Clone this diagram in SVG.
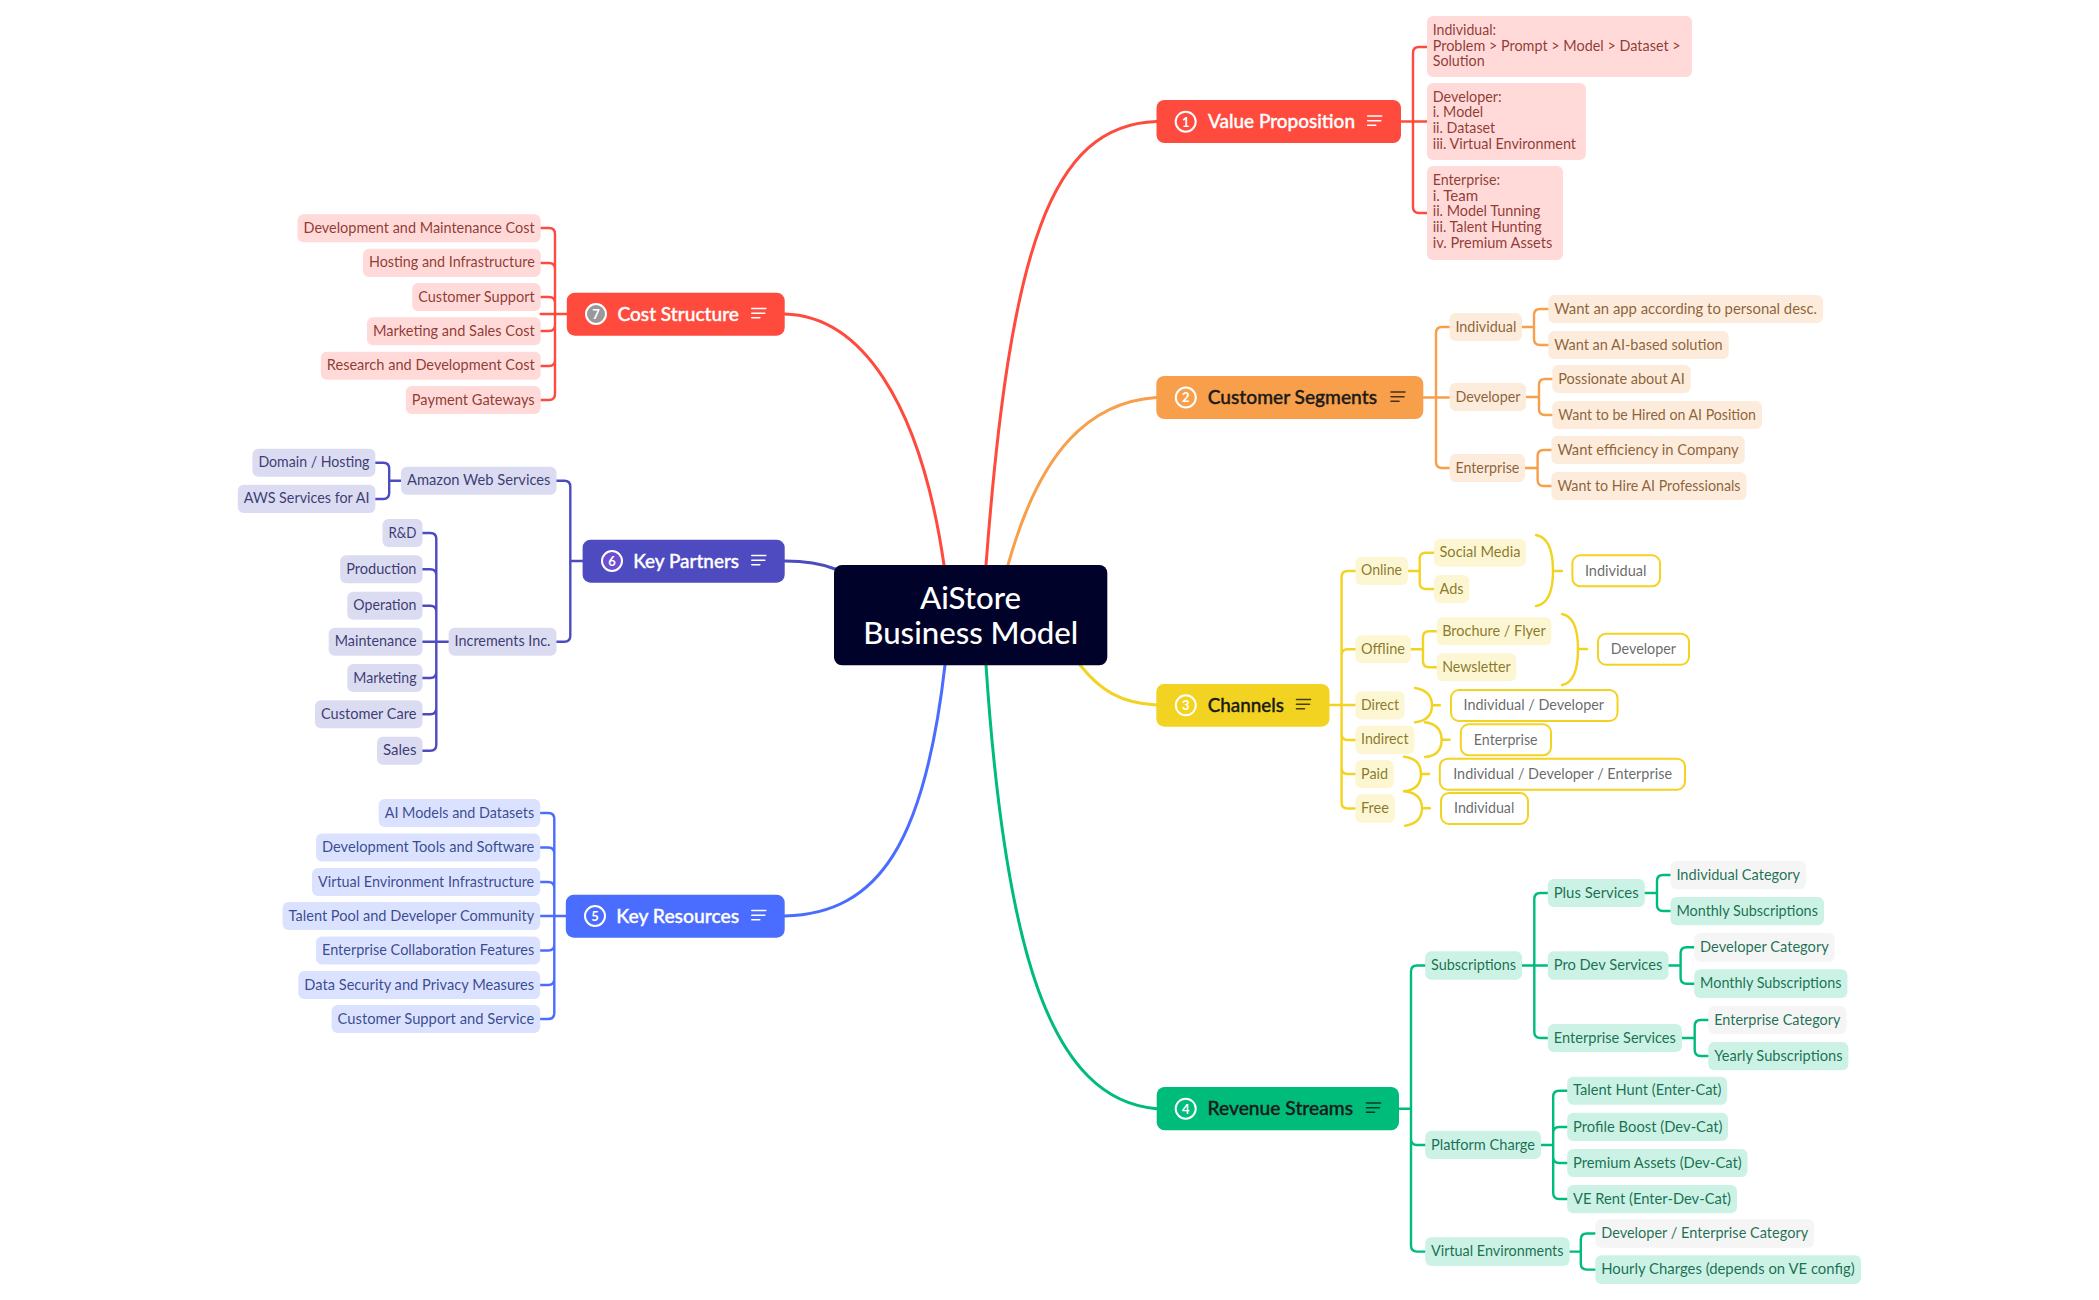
<svg xmlns="http://www.w3.org/2000/svg" width="2099" height="1300" viewBox="0 0 2099 1300">
<style>
text{font-family:"Lato","Liberation Sans",sans-serif;font-size:14.4px;fill-opacity:.88}
path{fill:none;stroke-width:2.4;stroke-linecap:round}
rect{rx:6px}
.main{stroke-width:3}
.cr{stroke:#ff4a3e}.co{stroke:#f79f4a}.cy{stroke:#f3d321}.cg{stroke:#00bc7b}.cb{stroke:#4a6cff}.cp{stroke:#4d4bbf}
.lr rect{fill:#ffdad8}.lr text{fill:#7f2620}
.lo rect{fill:#fdebdb}.lo text{fill:#7c5025}
.ly rect{fill:#fdf6d3}.ly text{fill:#79690f}
.lg rect{fill:#ccf2e5}.lg text{fill:#005e3d}
.lc rect{fill:#f5f5f5}.lc text{fill:#005e3d}
.lb rect{fill:#dbe2ff}.lb text{fill:#253680}
.lp rect{fill:#dbdbf2}.lp text{fill:#26265f}
.lo text,.ly text,.lg text,.lc text,.lb text,.lp text,.one text,.s text,.t text.l{transform:translateY(-.5px)}
.s rect{fill:#fff;stroke:#f3d321;stroke-width:2;rx:8px}.s text{fill:#555}
.t rect{rx:8px}.t text.l{font-size:18.5px;font-weight:500;fill-opacity:1;stroke-width:.35}
.t circle{stroke:#fff;stroke-width:2}
.t text.d{font-size:13px;font-weight:700;fill:#fff;text-anchor:middle;fill-opacity:1}
.t path{stroke-width:1.6}
.w text.l{fill:#fff;stroke:#fff}.w path{stroke:#fff}
.k text.l{fill:#1a1a1a;stroke:#1a1a1a}.k path{stroke:#000;stroke-opacity:.7}
</style>
<g id="connectors">
<path class="main cr" d="M1156.5 121.5C1050 125 1010 250 986 565"/>
<path class="main co" d="M1156.3 397.5C1090 402 1040 450 1008 565"/>
<path class="main cy" d="M1156.5 705C1120 703 1100 690 1080 665"/>
<path class="main cg" d="M1156.7 1108.7C1050 1100 1005 950 986 665"/>
<path class="main cb" d="M784.7 916C880 914 925 840 945 665"/>
<path class="main cp" d="M784.7 561C800 561 820 563 835 569"/>
<path class="main cr" d="M784.7 314C860 316 920 400 944 565"/>
<path class="cr" d="M1401 121.5H1427M1413 121.5V53Q1413 47 1419 47H1427M1413 121.5V207Q1413 213 1419 213H1427"/>
<path class="cr" d="M566.8 314H540.7M555 314V234Q555 228 549 228H540.7M555 314V269Q555 263 549 263H540.7M555 314V303Q555 297 549 297H540.7M555 314V325Q555 331 549 331H540.7M555 314V360Q555 366 549 366H540.7M555 314V394Q555 400 549 400H540.7"/>
<path class="co" d="M1423.3 397.5H1449.6M1436 397.5V333Q1436 327 1442 327H1449.6M1436 397.5V462Q1436 468 1442 468H1449.6"/>
<path class="co" d="M1522 327H1534M1534 327V315Q1534 309 1540 309H1548.3M1534 327V339Q1534 345 1540 345H1548.3"/>
<path class="co" d="M1526 397H1539M1539 397V385Q1539 379 1545 379H1552.3M1539 397V409Q1539 415 1545 415H1552.3"/>
<path class="co" d="M1525 468H1537.6M1537.6 468V456Q1537.6 450 1543.6 450H1551.4M1537.6 468V480Q1537.6 486 1543.6 486H1551.4"/>
<path class="cy" d="M1329.5 705H1355.4M1341.6 705V577Q1341.6 571 1347.6 571H1355.4M1341.6 705V655.3Q1341.6 649.3 1347.6 649.3H1355.4M1341.6 705V734Q1341.6 740 1347.6 740H1355.4M1341.6 705V768Q1341.6 774 1347.6 774H1355.4M1341.6 705V802.5Q1341.6 808.5 1347.6 808.5H1355.4"/>
<path class="cy" d="M1408 571H1419.7M1419.7 571V558.7Q1419.7 552.7 1425.7 552.7H1434M1419.7 571V583Q1419.7 589 1425.7 589H1434"/>
<path class="cy" d="M1410.8 649.3H1423M1423 649.3V637.3Q1423 631.3 1429 631.3H1436.7M1423 649.3V661.3Q1423 667.3 1429 667.3H1436.7"/>
<path class="cy" d="M1536 535C1548 537 1553 550 1553 571C1553 592 1548 604 1536 606M1553 571H1562"/>
<path class="cy" d="M1562 614C1573 616 1578 628 1578 649C1578 670 1573 683 1562 685M1578 649H1587"/>
<path class="cy" d="M1415 688C1427 690 1432 696 1432 705.3C1432 715 1427 721 1415 722.3M1432 705.3H1440"/>
<path class="cy" d="M1425 722.3C1437 724 1441.6 730 1441.6 739.7C1441.6 750 1437 756 1425 757M1441.6 739.7H1449.6"/>
<path class="cy" d="M1404 756.7C1416 758 1421 764 1421 774C1421 784 1416 790 1404 791.3M1421 774H1429"/>
<path class="cy" d="M1405 791.3C1417 793 1422 799 1422 808.3C1422 818 1417 824 1405 825.7M1422 808.3H1430"/>
<path class="cg" d="M1399 1108.7H1411M1411 1108.7V971.5Q1411 965.5 1417 965.5H1425.2M1411 1108.7V1139Q1411 1145 1417 1145H1425.2M1411 1108.7V1245.6Q1411 1251.6 1417 1251.6H1425.2"/>
<path class="cg" d="M1522 965.5H1547.8M1534.3 965.5V899Q1534.3 893 1540.3 893H1547.8M1534.3 965.5V1032Q1534.3 1038 1540.3 1038H1547.8"/>
<path class="cg" d="M1644.8 893H1657M1657 893V881Q1657 875 1663 875H1670.5M1657 893V905Q1657 911 1663 911H1670.5"/>
<path class="cg" d="M1668.5 965.5H1680.6M1680.6 965.5V953.3Q1680.6 947.3 1686.6 947.3H1694.2M1680.6 965.5V977.7Q1680.6 983.7 1686.6 983.7H1694.2"/>
<path class="cg" d="M1682 1038H1694.7M1694.7 1038V1026Q1694.7 1020 1700.7 1020H1708.3M1694.7 1038V1050Q1694.7 1056 1700.7 1056H1708.3"/>
<path class="cg" d="M1541 1145H1553.2M1553.2 1145V1096.7Q1553.2 1090.7 1559.2 1090.7H1567.2M1553.2 1145V1133Q1553.2 1127 1559.2 1127H1567.2M1553.2 1145V1157Q1553.2 1163 1559.2 1163H1567.2M1553.2 1145V1193Q1553.2 1199 1559.2 1199H1567.2"/>
<path class="cg" d="M1569.6 1251.6H1580.8M1580.8 1251.6V1239.5Q1580.8 1233.5 1586.8 1233.5H1595.3M1580.8 1251.6V1263.6Q1580.8 1269.6 1586.8 1269.6H1595.3"/>
<path class="cp" d="M582.6 561H570.3M570.3 561V486.7Q570.3 480.7 564.3 480.7H556.5M570.3 561V635.7Q570.3 641.7 564.3 641.7H556.5"/>
<path class="cp" d="M401 480.7H389.2M389.2 480.7V468.7Q389.2 462.7 383.2 462.7H375.4M389.2 480.7V493Q389.2 499 383.2 499H375.4"/>
<path class="cp" d="M448.6 641.7H422.5M436.3 641.7V539Q436.3 533 430.3 533H422.5M436.3 641.7V575.3Q436.3 569.3 430.3 569.3H422.5M436.3 641.7V611.7Q436.3 605.7 430.3 605.7H422.5M436.3 641.7V672Q436.3 678 430.3 678H422.5M436.3 641.7V708.3Q436.3 714.3 430.3 714.3H422.5M436.3 641.7V744.7Q436.3 750.7 430.3 750.7H422.5"/>
<path class="cb" d="M565.8 916H540.2M554.3 916V819Q554.3 813 548.3 813H540.2M554.3 916V853.5Q554.3 847.5 548.3 847.5H540.2M554.3 916V888Q554.3 882 548.3 882H540.2M554.3 916V944.5Q554.3 950.5 548.3 950.5H540.2M554.3 916V979Q554.3 985 548.3 985H540.2M554.3 916V1013Q554.3 1019 548.3 1019H540.2"/>
</g>
<g id="center"><rect x="834" y="565" width="273.3" height="100.3" style="rx:8px" fill="#000229"/>
<text x="920" y="608.5" style="font-size:30px;fill-opacity:1;font-weight:500" fill="#fff" textLength="101" lengthAdjust="spacingAndGlyphs">AiStore</text>
<text x="863.3" y="643.5" style="font-size:30px;fill-opacity:1;font-weight:500" fill="#fff" textLength="215" lengthAdjust="spacingAndGlyphs">Business Model</text></g>

<g id="value-proposition" class="t w"><rect x="1156.5" y="100" width="244.5" height="43" fill="#ff4a3e"/><circle cx="1185.7" cy="121.7" r="10" fill="none"/><text class="d" x="1185.7" y="126.5">1</text><text class="l" x="1208" y="128" textLength="147" lengthAdjust="spacingAndGlyphs">Value Proposition</text><path d="M1367.7 116H1381.7M1367.7 120.7H1380.7M1367.7 125.3H1375.7"/></g>
<g id="vp-individual" class="lr"><rect x="1427" y="16" width="265" height="61"/><text x="1432.7" y="35" textLength="63.4" lengthAdjust="spacingAndGlyphs">Individual:</text><text x="1432.7" y="51" textLength="248" lengthAdjust="spacingAndGlyphs">Problem &gt; Prompt &gt; Model &gt; Dataset &gt;</text><text x="1432.7" y="66" textLength="52" lengthAdjust="spacingAndGlyphs">Solution</text></g>
<g id="vp-developer" class="lr"><rect x="1427" y="83" width="159" height="77"/><text x="1432.7" y="101.7" textLength="69" lengthAdjust="spacingAndGlyphs">Developer:</text><text x="1432.7" y="116.7" textLength="50.4" lengthAdjust="spacingAndGlyphs">i. Model</text><text x="1432.7" y="132.7" textLength="62.5" lengthAdjust="spacingAndGlyphs">ii. Dataset</text><text x="1432.7" y="149" textLength="143.3" lengthAdjust="spacingAndGlyphs">iii. Virtual Environment</text></g>
<g id="vp-enterprise" class="lr"><rect x="1427" y="166" width="136" height="94"/><text x="1432.7" y="185" textLength="67.4" lengthAdjust="spacingAndGlyphs">Enterprise:</text><text x="1432.7" y="201" textLength="45.5" lengthAdjust="spacingAndGlyphs">i. Team</text><text x="1432.7" y="216" textLength="107.6" lengthAdjust="spacingAndGlyphs">ii. Model Tunning</text><text x="1432.7" y="232" textLength="108.9" lengthAdjust="spacingAndGlyphs">iii. Talent Hunting</text><text x="1432.7" y="248" textLength="119.6" lengthAdjust="spacingAndGlyphs">iv. Premium Assets</text></g>

<g id="customer-segments" class="t k"><rect x="1156.3" y="376" width="267" height="43" fill="#f79f4a"/><circle cx="1185.8" cy="397.5" r="10" fill="none"/><text class="d" x="1185.8" y="402.3">2</text><text class="l" x="1207.7" y="404" textLength="169.3" lengthAdjust="spacingAndGlyphs">Customer Segments</text><path d="M1391 392H1405M1391 396.7H1404M1391 401.3H1399"/></g>
<g id="cs-individual" class="lo"><rect x="1449.6" y="313" width="72.4" height="28"/><text x="1455.4" y="332" textLength="61" lengthAdjust="spacingAndGlyphs">Individual</text></g>
<g id="cs-developer" class="lo"><rect x="1449.6" y="383" width="76.4" height="28"/><text x="1455.4" y="402" textLength="65" lengthAdjust="spacingAndGlyphs">Developer</text></g>
<g id="cs-enterprise" class="lo"><rect x="1449.6" y="454" width="75.4" height="28"/><text x="1455.4" y="473" textLength="64" lengthAdjust="spacingAndGlyphs">Enterprise</text></g>
<g id="cs-1" class="lo"><rect x="1548.3" y="295" width="274.7" height="28"/><text x="1554.3" y="314" textLength="262.7" lengthAdjust="spacingAndGlyphs">Want an app according to personal desc.</text></g>
<g id="cs-2" class="lo"><rect x="1548.3" y="331" width="180.4" height="28"/><text x="1554.3" y="350" textLength="168.4" lengthAdjust="spacingAndGlyphs">Want an AI-based solution</text></g>
<g id="cs-3" class="lo"><rect x="1552.3" y="365" width="138.4" height="28"/><text x="1558.3" y="384" textLength="126.4" lengthAdjust="spacingAndGlyphs">Possionate about AI</text></g>
<g id="cs-4" class="lo"><rect x="1552.3" y="401" width="209.7" height="28"/><text x="1558.3" y="420" textLength="197.7" lengthAdjust="spacingAndGlyphs">Want to be Hired on AI Position</text></g>
<g id="cs-5" class="lo"><rect x="1551.4" y="436" width="193.3" height="28"/><text x="1557.4" y="455" textLength="181.3" lengthAdjust="spacingAndGlyphs">Want efficiency in Company</text></g>
<g id="cs-6" class="lo"><rect x="1551.4" y="472" width="195.1" height="28"/><text x="1557.4" y="491" textLength="183.1" lengthAdjust="spacingAndGlyphs">Want to Hire AI Professionals</text></g>

<g id="channels" class="t k"><rect x="1156.3" y="684" width="173.2" height="42.7" fill="#f3d321"/><circle cx="1185.8" cy="705.3" r="10" fill="none"/><text class="d" x="1185.8" y="710">3</text><text class="l" x="1207.7" y="712" textLength="76.3" lengthAdjust="spacingAndGlyphs">Channels</text><path d="M1296.5 699.5H1310.5M1296.5 704.2H1309.5M1296.5 708.8H1304.5"/></g>
<g id="ch-online" class="ly"><rect x="1355.4" y="556.7" width="52.6" height="28.3"/><text x="1361" y="575.7" textLength="41" lengthAdjust="spacingAndGlyphs">Online</text></g>
<g id="ch-offline" class="ly"><rect x="1355.4" y="635.3" width="55.4" height="28"/><text x="1361" y="654.3" textLength="44" lengthAdjust="spacingAndGlyphs">Offline</text></g>
<g id="ch-direct" class="ly"><rect x="1355.4" y="691.3" width="49.1" height="28.3"/><text x="1361" y="710.3" textLength="38" lengthAdjust="spacingAndGlyphs">Direct</text></g>
<g id="ch-indirect" class="ly"><rect x="1355.4" y="725.7" width="59" height="28.3"/><text x="1361" y="744.7" textLength="47.5" lengthAdjust="spacingAndGlyphs">Indirect</text></g>
<g id="ch-paid" class="ly"><rect x="1355.4" y="760" width="38.4" height="28.3"/><text x="1361" y="779" textLength="27" lengthAdjust="spacingAndGlyphs">Paid</text></g>
<g id="ch-free" class="ly"><rect x="1355.4" y="794.3" width="39.6" height="28.4"/><text x="1361" y="813.3" textLength="28" lengthAdjust="spacingAndGlyphs">Free</text></g>
<g id="ch-social" class="ly"><rect x="1434" y="538.7" width="92" height="28"/><text x="1439.5" y="557.7" textLength="81" lengthAdjust="spacingAndGlyphs">Social Media</text></g>
<g id="ch-ads" class="ly"><rect x="1434" y="575" width="35.3" height="28"/><text x="1439.5" y="594" textLength="24" lengthAdjust="spacingAndGlyphs">Ads</text></g>
<g id="ch-brochure" class="ly"><rect x="1436.7" y="617.3" width="114.7" height="28"/><text x="1442.2" y="636.3" textLength="103.5" lengthAdjust="spacingAndGlyphs">Brochure / Flyer</text></g>
<g id="ch-newsletter" class="ly"><rect x="1436.7" y="653.3" width="79.5" height="28"/><text x="1442.2" y="672.3" textLength="68.5" lengthAdjust="spacingAndGlyphs">Newsletter</text></g>
<g id="sum-online" class="s"><rect x="1572.4" y="555.3" width="87.6" height="31"/><text x="1584.9" y="576" textLength="61.6" lengthAdjust="spacingAndGlyphs">Individual</text></g>
<g id="sum-offline" class="s"><rect x="1598" y="633.7" width="91" height="31"/><text x="1610.8" y="654.3" textLength="65.2" lengthAdjust="spacingAndGlyphs">Developer</text></g>
<g id="sum-direct" class="s"><rect x="1451" y="690" width="166.5" height="31"/><text x="1463.5" y="710.7" textLength="140.6" lengthAdjust="spacingAndGlyphs">Individual / Developer</text></g>
<g id="sum-indirect" class="s"><rect x="1460.8" y="724.3" width="90.2" height="31"/><text x="1473.8" y="745" textLength="63.8" lengthAdjust="spacingAndGlyphs">Enterprise</text></g>
<g id="sum-paid" class="s"><rect x="1439.8" y="758.7" width="245.2" height="31"/><text x="1453.2" y="779.3" textLength="218.8" lengthAdjust="spacingAndGlyphs">Individual / Developer / Enterprise</text></g>
<g id="sum-free" class="s"><rect x="1441" y="793" width="87" height="31"/><text x="1454" y="813.7" textLength="60.3" lengthAdjust="spacingAndGlyphs">Individual</text></g>

<g id="revenue-streams" class="t k"><rect x="1156.7" y="1087" width="242.3" height="43.3" fill="#00bc7b"/><circle cx="1185.7" cy="1108.7" r="10" fill="none"/><text class="d" x="1185.7" y="1113.5">4</text><text class="l" x="1207.6" y="1115" textLength="145.4" lengthAdjust="spacingAndGlyphs">Revenue Streams</text><path d="M1366.5 1103H1380.5M1366.5 1107.7H1379.5M1366.5 1112.3H1374.5"/></g>
<g id="rs-subscriptions" class="lg"><rect x="1425.2" y="951.3" width="96.8" height="28.4"/><text x="1431" y="970.5" textLength="85" lengthAdjust="spacingAndGlyphs">Subscriptions</text></g>
<g id="rs-platform" class="lg"><rect x="1425.2" y="1130.7" width="115.8" height="28.3"/><text x="1431" y="1150" textLength="104" lengthAdjust="spacingAndGlyphs">Platform Charge</text></g>
<g id="rs-virtual" class="lg"><rect x="1425.2" y="1237.3" width="144.4" height="28.7"/><text x="1431" y="1256.5" textLength="132.5" lengthAdjust="spacingAndGlyphs">Virtual Environments</text></g>
<g id="rs-plus" class="lg"><rect x="1547.8" y="879" width="97" height="28"/><text x="1553.7" y="898" textLength="85" lengthAdjust="spacingAndGlyphs">Plus Services</text></g>
<g id="rs-prodev" class="lg"><rect x="1547.8" y="951.3" width="120.7" height="28.4"/><text x="1553.7" y="970.5" textLength="108.7" lengthAdjust="spacingAndGlyphs">Pro Dev Services</text></g>
<g id="rs-ent" class="lg"><rect x="1547.8" y="1024" width="134.2" height="28"/><text x="1553.7" y="1043" textLength="122.2" lengthAdjust="spacingAndGlyphs">Enterprise Services</text></g>
<g id="rs-ind-cat" class="lc"><rect x="1670.5" y="861" width="135.5" height="28.3"/><text x="1676.4" y="880" textLength="123.7" lengthAdjust="spacingAndGlyphs">Individual Category</text></g>
<g id="rs-mon-1" class="lg"><rect x="1670.5" y="897" width="153.5" height="28.3"/><text x="1676.4" y="916" textLength="141.5" lengthAdjust="spacingAndGlyphs">Monthly Subscriptions</text></g>
<g id="rs-dev-cat" class="lc"><rect x="1694.2" y="933" width="140.6" height="28.7"/><text x="1700.1" y="952.3" textLength="128.7" lengthAdjust="spacingAndGlyphs">Developer Category</text></g>
<g id="rs-mon-2" class="lg"><rect x="1694.2" y="969.3" width="153.2" height="28.7"/><text x="1700.1" y="988.6" textLength="141.3" lengthAdjust="spacingAndGlyphs">Monthly Subscriptions</text></g>
<g id="rs-ent-cat" class="lc"><rect x="1708.3" y="1006" width="138.1" height="28"/><text x="1714.2" y="1025" textLength="126.3" lengthAdjust="spacingAndGlyphs">Enterprise Category</text></g>
<g id="rs-yearly" class="lg"><rect x="1708.3" y="1042" width="140.1" height="28.3"/><text x="1714.2" y="1061" textLength="128.3" lengthAdjust="spacingAndGlyphs">Yearly Subscriptions</text></g>
<g id="rs-talent" class="lg"><rect x="1567.2" y="1076.7" width="160" height="28"/><text x="1573" y="1095.7" textLength="148.5" lengthAdjust="spacingAndGlyphs">Talent Hunt (Enter-Cat)</text></g>
<g id="rs-profile" class="lg"><rect x="1567.2" y="1112.7" width="160.8" height="28.3"/><text x="1573" y="1132" textLength="149.5" lengthAdjust="spacingAndGlyphs">Profile Boost (Dev-Cat)</text></g>
<g id="rs-premium" class="lg"><rect x="1567.2" y="1149" width="180.3" height="28"/><text x="1573" y="1168" textLength="168.7" lengthAdjust="spacingAndGlyphs">Premium Assets (Dev-Cat)</text></g>
<g id="rs-verent" class="lg"><rect x="1567.2" y="1185" width="169.8" height="28.3"/><text x="1573" y="1204" textLength="158" lengthAdjust="spacingAndGlyphs">VE Rent (Enter-Dev-Cat)</text></g>
<g id="rs-dev-ent-cat" class="lc"><rect x="1595.3" y="1219.3" width="218.7" height="28.4"/><text x="1601.2" y="1238.5" textLength="207" lengthAdjust="spacingAndGlyphs">Developer / Enterprise Category</text></g>
<g id="rs-hourly" class="lg"><rect x="1595.3" y="1255.3" width="265.7" height="28.7"/><text x="1601.2" y="1274.5" textLength="253.5" lengthAdjust="spacingAndGlyphs">Hourly Charges (depends on VE config)</text></g>

<g id="cost-structure" class="t w"><rect x="566.8" y="292.7" width="217.9" height="43" fill="#ff4a3e"/><circle cx="596" cy="314" r="10" fill="#999"/><text class="d" x="596" y="318.8">7</text><text class="l" x="617.4" y="321" textLength="121.6" lengthAdjust="spacingAndGlyphs">Cost Structure</text><path d="M751.8 308.5H765.8M751.8 313.2H764.8M751.8 317.8H759.8"/></g>
<g id="cost-1" class="lr one"><rect x="297.5" y="214.3" width="243.2" height="28"/><text x="303.5" y="233.3" textLength="231.2" lengthAdjust="spacingAndGlyphs">Development and Maintenance Cost</text></g>
<g id="cost-2" class="lr one"><rect x="363" y="248.7" width="177.7" height="28.3"/><text x="369" y="267.7" textLength="165.7" lengthAdjust="spacingAndGlyphs">Hosting and Infrastructure</text></g>
<g id="cost-3" class="lr one"><rect x="412.2" y="283" width="128.5" height="28"/><text x="418.2" y="302" textLength="116.5" lengthAdjust="spacingAndGlyphs">Customer Support</text></g>
<g id="cost-4" class="lr one"><rect x="367" y="317.3" width="173.7" height="28"/><text x="373" y="336.3" textLength="161.7" lengthAdjust="spacingAndGlyphs">Marketing and Sales Cost</text></g>
<g id="cost-5" class="lr one"><rect x="320.8" y="351.7" width="219.9" height="28"/><text x="326.8" y="370.7" textLength="207.9" lengthAdjust="spacingAndGlyphs">Research and Development Cost</text></g>
<g id="cost-6" class="lr one"><rect x="405.8" y="386" width="134.9" height="28"/><text x="411.8" y="405" textLength="122.9" lengthAdjust="spacingAndGlyphs">Payment Gateways</text></g>

<g id="key-partners" class="t w"><rect x="582.6" y="539.7" width="202.1" height="43" fill="#4d4bbf"/><circle cx="612" cy="561" r="10" fill="#6b4fd0"/><text class="d" x="612" y="565.8">6</text><text class="l" x="633.2" y="568" textLength="105.8" lengthAdjust="spacingAndGlyphs">Key Partners</text><path d="M751.8 555.5H765.8M751.8 560.2H764.8M751.8 564.8H759.8"/></g>
<g id="kp-amazon" class="lp"><rect x="401" y="466.7" width="155.5" height="28"/><text x="407" y="485.7" textLength="143.5" lengthAdjust="spacingAndGlyphs">Amazon Web Services</text></g>
<g id="kp-domain" class="lp"><rect x="252.4" y="448.7" width="123" height="28"/><text x="258.4" y="467.7" textLength="111" lengthAdjust="spacingAndGlyphs">Domain / Hosting</text></g>
<g id="kp-aws" class="lp"><rect x="237.8" y="484.7" width="137.6" height="28.3"/><text x="243.8" y="503.7" textLength="125.6" lengthAdjust="spacingAndGlyphs">AWS Services for AI</text></g>
<g id="kp-rd" class="lp"><rect x="382.5" y="519" width="40" height="28"/><text x="388.5" y="538" textLength="28" lengthAdjust="spacingAndGlyphs">R&amp;D</text></g>
<g id="kp-production" class="lp"><rect x="340.2" y="555.3" width="82.3" height="28"/><text x="346.2" y="574.3" textLength="70.3" lengthAdjust="spacingAndGlyphs">Production</text></g>
<g id="kp-operation" class="lp"><rect x="347.3" y="591.7" width="75.2" height="28"/><text x="353.3" y="610.7" textLength="63.2" lengthAdjust="spacingAndGlyphs">Operation</text></g>
<g id="kp-maintenance" class="lp"><rect x="328.7" y="627.7" width="93.8" height="28"/><text x="334.7" y="646.7" textLength="81.8" lengthAdjust="spacingAndGlyphs">Maintenance</text></g>
<g id="kp-marketing" class="lp"><rect x="347.3" y="664" width="75.2" height="28"/><text x="353.3" y="683" textLength="63.2" lengthAdjust="spacingAndGlyphs">Marketing</text></g>
<g id="kp-care" class="lp"><rect x="315" y="700.3" width="107.5" height="28"/><text x="321" y="719.3" textLength="95.5" lengthAdjust="spacingAndGlyphs">Customer Care</text></g>
<g id="kp-sales" class="lp"><rect x="377" y="736.7" width="45.5" height="28"/><text x="383" y="755.7" textLength="33.5" lengthAdjust="spacingAndGlyphs">Sales</text></g>
<g id="kp-increments" class="lp"><rect x="448.6" y="627.7" width="107.9" height="28"/><text x="454.6" y="646.7" textLength="95.9" lengthAdjust="spacingAndGlyphs">Increments Inc.</text></g>

<g id="key-resources" class="t w"><rect x="565.8" y="894.7" width="218.9" height="43" fill="#4a6cff"/><circle cx="595" cy="916" r="10" fill="none"/><text class="d" x="595" y="920.8">5</text><text class="l" x="616.3" y="923" textLength="122.9" lengthAdjust="spacingAndGlyphs">Key Resources</text><path d="M751.8 910.5H765.8M751.8 915.2H764.8M751.8 919.8H759.8"/></g>
<g id="kr-1" class="lb"><rect x="378.7" y="799" width="161.5" height="28"/><text x="384.7" y="818" textLength="149.5" lengthAdjust="spacingAndGlyphs">AI Models and Datasets</text></g>
<g id="kr-2" class="lb"><rect x="316" y="833.5" width="224.2" height="28"/><text x="322" y="852.5" textLength="212.2" lengthAdjust="spacingAndGlyphs">Development Tools and Software</text></g>
<g id="kr-3" class="lb"><rect x="312" y="868" width="228.2" height="28"/><text x="318" y="887" textLength="216.2" lengthAdjust="spacingAndGlyphs">Virtual Environment Infrastructure</text></g>
<g id="kr-4" class="lb"><rect x="282.6" y="902" width="257.6" height="28"/><text x="288.6" y="921" textLength="245.6" lengthAdjust="spacingAndGlyphs">Talent Pool and Developer Community</text></g>
<g id="kr-5" class="lb"><rect x="316" y="936.5" width="224.2" height="28"/><text x="322" y="955.5" textLength="212.2" lengthAdjust="spacingAndGlyphs">Enterprise Collaboration Features</text></g>
<g id="kr-6" class="lb"><rect x="298.3" y="971" width="241.9" height="28"/><text x="304.3" y="990" textLength="229.9" lengthAdjust="spacingAndGlyphs">Data Security and Privacy Measures</text></g>
<g id="kr-7" class="lb"><rect x="331.6" y="1005" width="208.6" height="28"/><text x="337.6" y="1024" textLength="196.6" lengthAdjust="spacingAndGlyphs">Customer Support and Service</text></g>
</svg>
